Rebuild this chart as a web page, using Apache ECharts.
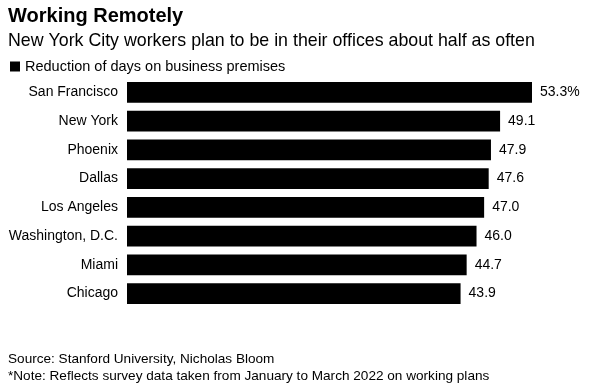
<!DOCTYPE html>
<html><head><meta charset="utf-8">
<script src="https://cdn.jsdelivr.net/npm/echarts@6/dist/echarts.min.js"></script>
<style>html,body{margin:0;padding:0;background:#fff}#c{width:589px;height:391px}</style>
</head><body><div id="c"></div>
<script>
const categories = ["San Francisco","New York","Phoenix","Dallas","Los Angeles","Washington, D.C.","Miami","Chicago"];
const values = [53.3, 49.1, 47.9, 47.6, 47.0, 46.0, 44.7, 43.9];
const valueLabels = ["53.3%","49.1","47.9","47.6","47.0","46.0","44.7","43.9"];
const seriesName = "Reduction of days on business premises";
const FONT = "Liberation Sans, Arial, sans-serif";
const chart = echarts.init(document.getElementById('c'));
chart.setOption({
  animation:false,
  backgroundColor:'#fff',
  textStyle:{fontFamily:FONT},
  title:[
    {text:'Working Remotely',left:3,top:1,textStyle:{fontFamily:FONT,fontSize:20,fontWeight:'bold',color:'#000'}},
    {text:'New York City workers plan to be in their offices about half as often',left:3,top:27,textStyle:{fontFamily:FONT,fontSize:17.8,fontWeight:'normal',color:'#000'}},
    {text:'Source: Stanford University, Nicholas Bloom\n*Note: Reflects survey data taken from January to March 2022 on working plans',left:3,top:346,textStyle:{fontFamily:FONT,fontSize:13.6,fontWeight:'normal',color:'#000',lineHeight:17}}
  ],
  legend:{left:5,top:54,itemWidth:10,itemHeight:10,itemGap:5,icon:'rect',
    textStyle:{fontFamily:FONT,fontSize:14.5,color:'#000',padding:[0,0,0,0]},data:[seriesName]},
  grid:{left:127,right:57,top:78,bottom:83,containLabel:false},
  xAxis:{type:'value',min:0,max:53.3,show:false},
  yAxis:{type:'category',data:categories,inverse:true,
    axisLine:{show:false},axisTick:{show:false},
    axisLabel:{fontFamily:FONT,fontSize:14,color:'#000',margin:9}},
  series:[{name:seriesName,type:'bar',data:values,barCategoryGap:'27%',
    itemStyle:{color:'#000'},
    label:{show:true,position:'right',distance:8,fontFamily:FONT,fontSize:14,color:'#000',
      formatter:p=>valueLabels[p.dataIndex]}}]
});
</script></body></html>
